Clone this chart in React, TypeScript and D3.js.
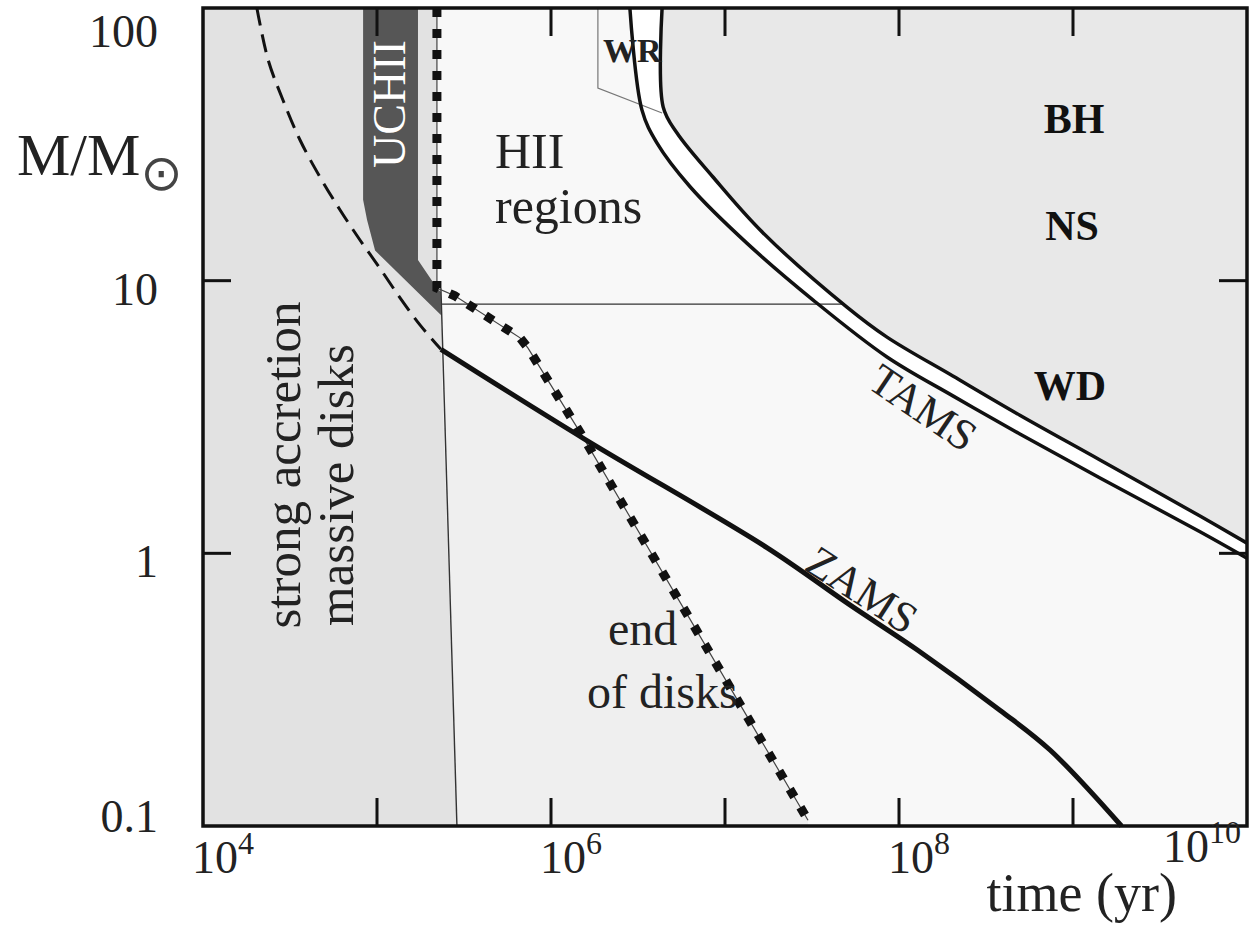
import React from 'react';
import * as d3 from 'd3';

const WIDTH = 1250;
const HEIGHT = 926;
const PLOT = { left: 203, right: 1247, top: 8, bottom: 826 };
const SERIF = "'Liberation Serif', 'Times New Roman', Times, serif";

// axes (time in yr, mass in solar masses, both logarithmic)
const timeDomain = [1e4, 1e10];
const massDomain = [0.1, 100];
const timeTicks = [1e5, 1e6, 1e7, 1e8, 1e9];
const massTicks = [10, 1];
const timeLabelExps = [4, 6, 8, 10];
const massLabels = [100, 10, 1, 0.1];

// dashed curve through the strong accretion region
const dashT = [2.04e4, 2.37e4, 2.88e4, 3.61e4, 4.7e4, 6.12e4, 7.98e4, 1.04e5, 1.36e5, 1.77e5, 2.33e5];
const dashM = [100, 64.4, 46, 32.8, 24, 18.2, 14.1, 11.1, 8.63, 6.87, 5.6];

// UCHII band outline
const uchiiT = [8.32e4, 8.32e4, 8.77e4, 9.75e4, 2.33e5, 2.33e5, 2.21e5, 1.72e5, 1.72e5];
const uchiiM = [100, 19.8, 16.7, 12.9, 7.48, 9.08, 9.4, 11.9, 100];

// end of disks (dotted)
const diskEndT = [2.21e5, 2.21e5, 2.8e5, 6.64e5, 7.38e5, 1.55e6, 3.0e7];
const diskEndM = [100, 9.4, 8.8, 6.17, 5.66, 2.63, 0.105];

// end of the strong accretion phase (thin line)
const accrEdgeT = [2.33e5, 2.88e5];
const accrEdgeM = [9.4, 0.1];

// 8 Msun limit
const snT = [2.33e5, 4.8e7];
const snM = [8.2, 8.2];

// ZAMS
const zamsT = [2.33e5, 1.55e6, 1.74e7, 5.22e7, 1.27e8, 3.8e8, 7.38e8, 1.9e9];
const zamsM = [5.6, 2.63, 1.05, 0.647, 0.443, 0.266, 0.19, 0.1];

// TAMS double line
const tamsInnerT = [2.84e6, 3.33e6, 4.06e6, 6.3e6, 1.34e7, 3.21e7, 8.53e7, 2.04e8, 4.95e8, 1.43e9, 5.37e9, 1e10];
const tamsInnerM = [100, 42.3, 32.0, 22.1, 13.7, 8.49, 5.25, 3.78, 2.74, 1.89, 1.2, 0.96];
const tamsOuterT = [4.35e6, 4.41e6, 5.3e6, 8.53e6, 1.65e7, 5.02e7, 8.53e7, 2.04e8, 4.95e8, 1.43e9, 5.37e9, 1e10];
const tamsOuterM = [100, 43.4, 34.8, 24.0, 15.0, 8.0, 6.21, 4.47, 3.21, 2.2, 1.37, 1.09];

// Wolf-Rayet box
const wrT = [1.86e6, 1.86e6, 4.35e6];
const wrM = [100, 50.9, 41.2];

const zip = (ts: number[], ms: number[]) => ts.map((t, i) => [t, ms[i]] as [number, number]);

export default function App() {
  const x = d3.scaleLog().domain(timeDomain).range([PLOT.left, PLOT.right]);
  const y = d3.scaleLog().domain(massDomain).range([PLOT.bottom, PLOT.top]);

  const lin = d3.line<[number, number]>().x(d => x(d[0])).y(d => y(d[1]));
  const smooth = d3.line<[number, number]>()
    .x(d => x(d[0])).y(d => y(d[1]))
    .curve(d3.curveCatmullRom.alpha(0.5));

  const dashed = zip(dashT, dashM);
  const uchii = zip(uchiiT, uchiiM);
  const diskEnd = zip(diskEndT, diskEndM);
  const accrEdge = zip(accrEdgeT, accrEdgeM);
  const sn = zip(snT, snM);
  const zams = zip(zamsT, zamsM);
  const inner = zip(tamsInnerT, tamsInnerM);
  const outer = zip(tamsOuterT, tamsOuterM);
  const wr = zip(wrT, wrM);

  const [tMin, tMax] = timeDomain;
  const [mMin, mMax] = massDomain;

  // filled regions
  const accrFill = lin([
    [tMin, mMax], diskEnd[0], diskEnd[1], accrEdge[0],
    accrEdge[1], [tMin, mMin],
  ]) + 'Z';
  const last = diskEnd[diskEnd.length - 1];
  const diskFill = lin([
    zams[0], zams[1], last, [last[0], mMin], accrEdge[1],
  ]) + 'Z';
  const remnantFill = smooth(outer) + `L${x(tMax)},${y(mMax)}Z`;
  const bandFill = smooth(inner) + (smooth([...outer].reverse()) as string).replace(/^M/, 'L') + 'Z';
  const uchiiFill = lin(uchii) + 'Z';

  const yLabelPos = (v: number) => Math.min(Math.max(y(v) + 24, PLOT.top + 39), PLOT.bottom + 6);
  const xLabelPos = (e: number) => Math.min(x(Math.pow(10, e)) + 20, PLOT.right - 45);

  const tick = 28;

  return (
    <svg width={WIDTH} height={HEIGHT} style={{ position: 'absolute', left: 0, top: 0, background: '#fff' }}
      fontFamily={SERIF}>
      {/* plot background */}
      <rect x={PLOT.left} y={PLOT.top} width={PLOT.right - PLOT.left} height={PLOT.bottom - PLOT.top} fill="#f8f8f8" />
      <path d={accrFill} fill="#e2e2e2" />
      <path d={diskFill} fill="#efefef" />
      <path d={remnantFill} fill="#e8e8e8" />
      <path d={bandFill} fill="#ffffff" />
      <path d={uchiiFill} fill="#565656" />

      {/* thin boundaries */}
      <path d={lin(accrEdge) as string} fill="none" stroke="#333" strokeWidth={1.4} />
      <path d={lin(sn) as string} fill="none" stroke="#333" strokeWidth={1.4} />
      <path d={lin(wr) as string} fill="none" stroke="#777" strokeWidth={1.2} />

      {/* dashed curve */}
      <path d={smooth(dashed) as string} fill="none" stroke="#111" strokeWidth={3} strokeDasharray="18 9" />

      {/* end of disks */}
      <path d={lin(diskEnd) as string} fill="none" stroke="#444" strokeWidth={1.2} />
      <path d={lin(diskEnd) as string} fill="none" stroke="#111" strokeWidth={9} strokeDasharray="9 12" />

      {/* ZAMS and TAMS */}
      <path d={smooth(zams) as string} fill="none" stroke="#111" strokeWidth={5} />
      <path d={smooth(inner) as string} fill="none" stroke="#111" strokeWidth={3.5} />
      <path d={smooth(outer) as string} fill="none" stroke="#111" strokeWidth={3.5} />

      {/* frame and ticks */}
      <rect x={PLOT.left} y={PLOT.top} width={PLOT.right - PLOT.left} height={PLOT.bottom - PLOT.top}
        fill="none" stroke="#111" strokeWidth={3.5} />
      {timeTicks.map(t => (
        <g key={'tx' + t} stroke="#111" strokeWidth={3}>
          <line x1={x(t)} x2={x(t)} y1={PLOT.bottom} y2={PLOT.bottom - tick} />
          <line x1={x(t)} x2={x(t)} y1={PLOT.top} y2={PLOT.top + tick} />
        </g>
      ))}
      {massTicks.map(m => (
        <g key={'ty' + m} stroke="#111" strokeWidth={3}>
          <line x1={PLOT.left} x2={PLOT.left + tick} y1={y(m)} y2={y(m)} />
          <line x1={PLOT.right} x2={PLOT.right - tick} y1={y(m)} y2={y(m)} />
        </g>
      ))}

      {/* tick labels */}
      {massLabels.map(m => (
        <text key={'ly' + m} x={158} y={yLabelPos(m)} textAnchor="end" fontSize={46} fill="#222">{m}</text>
      ))}
      {timeLabelExps.map(e => (
        <text key={'lx' + e} x={xLabelPos(e)} y={e === 10 ? 862 : 873} textAnchor="middle" fontSize={46} fill="#222">
          10<tspan dy={-19} fontSize={32}>{e}</tspan>
        </text>
      ))}

      {/* axis titles */}
      <text x={17} y={175} fontSize={60} fill="#222">
        M/M<tspan fontFamily="'DejaVu Sans', sans-serif" fontSize={50} dy={15} fill="#444">⊙</tspan>
      </text>
      <text x={1177} y={911} textAnchor="end" fontSize={54} fill="#222">time (yr)</text>

      {/* region labels */}
      <text transform="translate(405,104) rotate(-90)" textAnchor="middle" fontSize={46} fill="#fff">UCHII</text>
      <text transform="translate(300,465) rotate(-90)" textAnchor="middle" fontSize={51} fill="#222">strong accretion</text>
      <text transform="translate(353,485) rotate(-90)" textAnchor="middle" fontSize={51} fill="#222">massive disks</text>
      <text x={495} y={168} fontSize={50} fill="#222">HII</text>
      <text x={495} y={223} fontSize={50} fill="#222">regions</text>
      <text x={608} y={645} fontSize={48} fill="#222">end</text>
      <text x={587} y={708} fontSize={48} fill="#222">of disks</text>
      <text transform="translate(923,408) rotate(34)" textAnchor="middle" dy="0.33em" fontSize={44} fill="#222">TAMS</text>
      <text transform="translate(862,590) rotate(33)" textAnchor="middle" dy="0.33em" fontSize={44} fill="#222">ZAMS</text>
      <text x={603} y={62} fontSize={34} fontWeight="bold" fill="#222">WR</text>
      <text x={1074} y={133} textAnchor="middle" fontSize={42} fontWeight="bold" fill="#111">BH</text>
      <text x={1072} y={240} textAnchor="middle" fontSize={42} fontWeight="bold" fill="#111">NS</text>
      <text x={1070} y={400} textAnchor="middle" fontSize={42} fontWeight="bold" fill="#111">WD</text>
    </svg>
  );
}
